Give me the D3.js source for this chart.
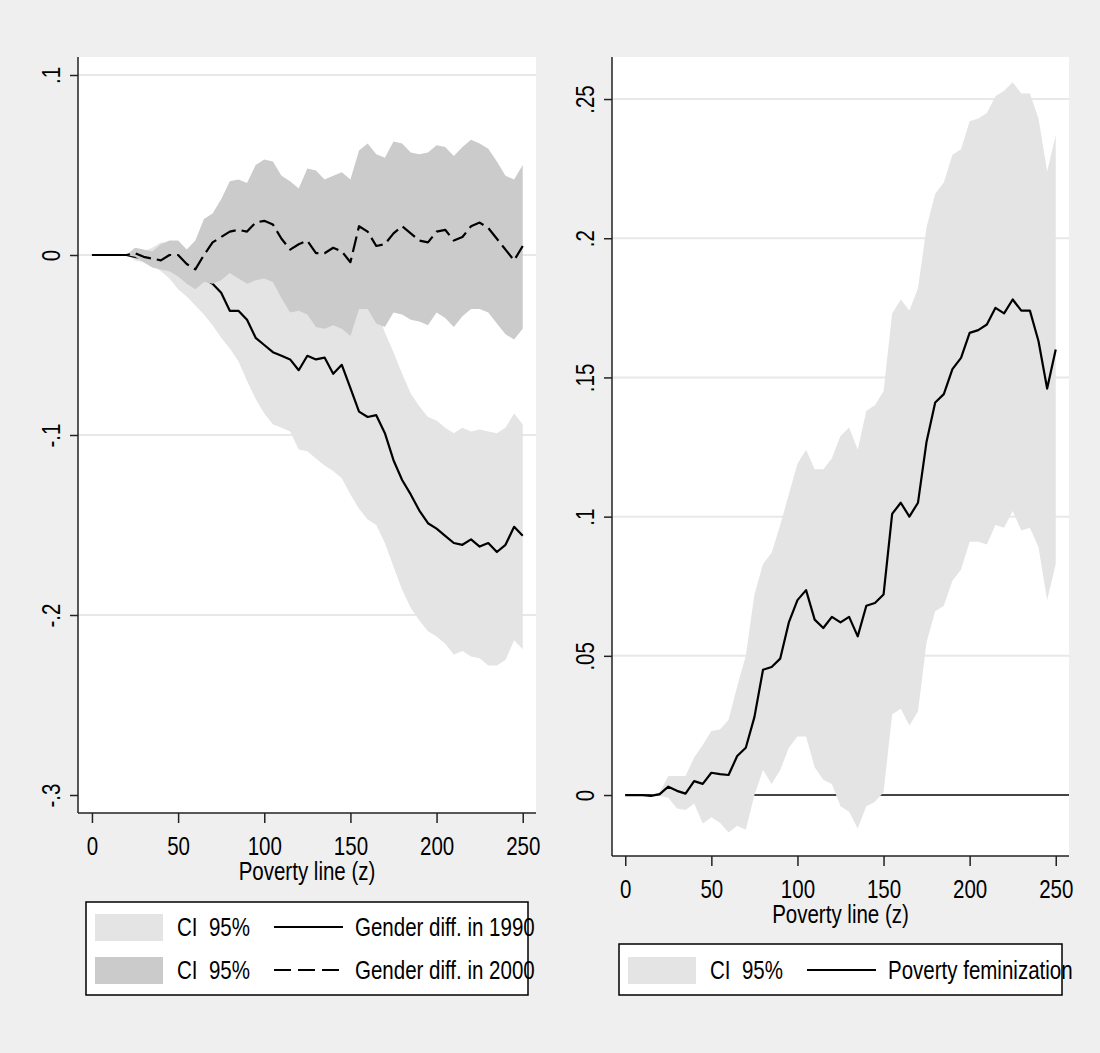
<!DOCTYPE html>
<html lang="en">
<head>
<meta charset="utf-8" />
<script src="https://d3js.org/d3.v7.min.js"></script>
<style>
  body { margin: 0; background: #efefef; }
  svg { display: block; }
  text { font-family: "Liberation Sans", Arial, sans-serif; font-size: 25px; fill: #000; }
  .axis path, .axis line { stroke: #222; stroke-width: 1.5px; }
</style>
</head>
<body>
<script>
// poverty line values (z)
var zGrid = [0,5,10,15,20,25,30,35,40,45,50,55,60,65,70,75,80,85,90,95,100,105,110,115,120,125,
             130,135,140,145,150,155,160,165,170,175,180,185,190,195,200,205,210,215,220,225,230,235,240,245,250];

// left panel: gender difference in 1990
var est1990 = [0,0,0,0,0, -0.001,-0.002,-0.003,-0.004,-0.006, -0.008,-0.009,-0.011,-0.013,-0.016,
  -0.021,-0.031,-0.031,-0.036,-0.046, -0.050,-0.054,-0.056,-0.058,-0.064, -0.056,-0.058,-0.057,-0.066,-0.061,
  -0.074,-0.087,-0.090,-0.089,-0.099, -0.114,-0.125,-0.133,-0.142,-0.149, -0.152,-0.156,-0.160,-0.161,-0.158,
  -0.162,-0.160,-0.165,-0.161,-0.151, -0.156];
var lo1990 = [0,0,0,0,0, -0.003,-0.004,-0.006,-0.009,-0.013, -0.019,-0.023,-0.028,-0.033,-0.039,
  -0.046,-0.052,-0.059,-0.070,-0.080, -0.088,-0.094,-0.096,-0.098,-0.108, -0.109,-0.113,-0.117,-0.120,-0.124,
  -0.133,-0.141,-0.147,-0.150,-0.160, -0.173,-0.186,-0.196,-0.203,-0.209, -0.212,-0.216,-0.222,-0.220,-0.223,
  -0.224,-0.228,-0.228,-0.225,-0.214, -0.219];
var hi1990 = [0,0,0,0,0, 0.002,0.002,0.004,0.007,0.007, 0.002,-0.004,-0.006,-0.008,-0.010,
  -0.005,-0.004,-0.006,-0.006,-0.005, -0.008,-0.006,-0.012,-0.015,-0.012, -0.018,-0.015,-0.018,-0.020,-0.018,
  -0.020,-0.018,-0.024,-0.030,-0.043, -0.054,-0.066,-0.077,-0.084,-0.090, -0.092,-0.096,-0.099,-0.096,-0.098,
  -0.097,-0.098,-0.099,-0.096,-0.088, -0.094];

// left panel: gender difference in 2000
var est2000 = [0,0,0,0,0, 0.001,-0.001,-0.002,-0.003,0.000, 0.000,-0.005,-0.008,0.000,0.007,
  0.010,0.013,0.014,0.013,0.018, 0.019,0.017,0.009,0.003,0.006, 0.008,0.001,0.001,0.004,0.002,
  -0.004,0.016,0.013,0.005,0.006, 0.012,0.016,0.012,0.008,0.007, 0.013,0.014,0.008,0.010,0.016,
  0.018,0.015,0.009,0.003,-0.003, 0.005];
var lo2000 = [0,0,0,0,0, -0.001,-0.004,-0.007,-0.008,-0.009, -0.012,-0.016,-0.019,-0.015,-0.016,
  -0.014,-0.010,-0.013,-0.016,-0.014, -0.013,-0.015,-0.024,-0.032,-0.031, -0.033,-0.040,-0.041,-0.039,-0.041,
  -0.045,-0.030,-0.030,-0.038,-0.040, -0.032,-0.033,-0.036,-0.037,-0.039, -0.032,-0.035,-0.040,-0.034,-0.030,
  -0.030,-0.032,-0.038,-0.044,-0.047, -0.041];
var hi2000 = [0,0,0,0,0, 0.004,0.003,0.002,0.006,0.008, 0.008,0.003,0.008,0.020,0.023,
  0.031,0.041,0.042,0.040,0.050, 0.053,0.052,0.044,0.041,0.037, 0.048,0.047,0.042,0.044,0.046,
  0.042,0.058,0.062,0.056,0.054, 0.063,0.062,0.057,0.056,0.057, 0.061,0.060,0.055,0.060,0.064,
  0.062,0.059,0.052,0.044,0.042, 0.050];

// right panel: poverty feminization
var estFem = [0,0,0,-0.0003,0.0003, 0.003,0.0015,0.0005,0.005,0.004, 0.008,0.0075,0.0072,0.014,0.017,
  0.028,0.045,0.046,0.049,0.062, 0.070,0.0736,0.063,0.060,0.064, 0.062,0.064,0.057,0.068,0.069,
  0.072,0.101,0.105,0.100,0.105, 0.127,0.141,0.144,0.153,0.157, 0.166,0.167,0.169,0.175,0.173,
  0.178,0.174,0.174,0.163,0.146, 0.160];
var loFem = [0,0,0,0,-0.0003, -0.001,-0.0048,-0.0054,-0.003,-0.0102, -0.008,-0.010,-0.0135,-0.011,-0.0125,
  0.000,0.009,0.004,0.009,0.017, 0.021,0.021,0.010,0.0055,0.004, -0.004,-0.006,-0.012,-0.004,-0.0024,
  0.001,0.029,0.031,0.025,0.030, 0.055,0.066,0.068,0.077,0.081, 0.091,0.091,0.090,0.097,0.096,
  0.102,0.095,0.096,0.089,0.070, 0.083];
var hiFem = [0,0,0,0,0.001, 0.0068,0.0068,0.0068,0.0135,0.018, 0.023,0.0235,0.027,0.039,0.050,
  0.072,0.083,0.087,0.097,0.108, 0.119,0.124,0.117,0.117,0.121, 0.129,0.132,0.124,0.138,0.140,
  0.145,0.173,0.178,0.174,0.182, 0.204,0.216,0.220,0.230,0.232, 0.242,0.243,0.245,0.251,0.253,
  0.256,0.252,0.252,0.243,0.224, 0.237];

var xTicks = [0, 50, 100, 150, 200, 250];
var yTicksLeft = [-0.3, -0.2, -0.1, 0, 0.1];
var yLabelsLeft = ["-.3", "-.2", "-.1", "0", ".1"];
var yTicksRight = [0, 0.05, 0.1, 0.15, 0.2, 0.25];
var yLabelsRight = ["0", ".05", ".1", ".15", ".2", ".25"];
var xTitle = "Poverty line (z)";

var width = 1100, height = 1053;
var lightFill = "#e4e4e4", darkFill = "#cbcbcb";

var svg = d3.select("body").append("svg")
    .attr("width", width)
    .attr("height", height);

svg.append("rect").attr("width", width).attr("height", height).attr("fill", "#efefef");

function rows(lo, hi, est) {
    return zGrid.map(function (z, i) { return { z: z, lo: lo[i], hi: hi[i], est: est[i] }; });
}

function drawPanel(p) {
    var x = d3.scaleLinear().domain(p.xDomain).range([p.x0, p.x1]);
    var y = d3.scaleLinear().domain(p.yDomain).range([p.y1, p.y0]);
    var g = svg.append("g");

    g.append("rect")
        .attr("x", p.x0).attr("y", p.y0)
        .attr("width", p.x1 - p.x0).attr("height", p.y1 - p.y0)
        .attr("fill", "#fff");

    // grid lines
    g.selectAll(".grid").data(p.grid).enter().append("line")
        .attr("x1", p.x0).attr("x2", p.x1)
        .attr("y1", function (d) { return y(d); })
        .attr("y2", function (d) { return y(d); })
        .attr("stroke", "#e8e8e8").attr("stroke-width", 2);

    if (p.zeroLine) {
        g.append("line")
            .attr("x1", x(0)).attr("x2", p.x1)
            .attr("y1", y(0)).attr("y2", y(0))
            .attr("stroke", "#444").attr("stroke-width", 2);
    }

    var area = d3.area()
        .x(function (d) { return x(d.z); })
        .y0(function (d) { return y(d.lo); })
        .y1(function (d) { return y(d.hi); });
    var line = d3.line()
        .x(function (d) { return x(d.z); })
        .y(function (d) { return y(d.est); });

    p.series.forEach(function (s) {
        g.append("path").datum(s.data).attr("d", area).attr("fill", s.fill);
        g.append("path").datum(s.data).attr("d", line)
            .attr("fill", "none").attr("stroke", "#000").attr("stroke-width", 2.2)
            .attr("stroke-linejoin", "round")
            .attr("stroke-dasharray", s.dash || null);
    });

    // axes
    var yAxis = d3.axisLeft(y).tickValues(p.yTicks)
        .tickFormat(function (d, i) { return p.yLabels[i]; })
        .tickSize(8).tickSizeOuter(0);
    var ya = g.append("g").attr("class", "axis")
        .attr("transform", "translate(" + p.x0 + ",0)")
        .call(yAxis);
    ya.select(".domain").attr("d", "M0," + p.y0 + "V" + p.y1);
    ya.selectAll("text")
        .attr("x", 0).attr("y", -18).attr("dy", null)
        .attr("text-anchor", "middle")
        .attr("transform", "rotate(-90)");

    var xAxis = d3.axisBottom(x).tickValues(xTicks)
        .tickSize(10).tickPadding(14).tickSizeOuter(0);
    var xa = g.append("g").attr("class", "axis")
        .attr("transform", "translate(0," + p.y1 + ")")
        .call(xAxis);
    xa.select(".domain").attr("d", "M" + p.x0 + ",0H" + p.x1);

    g.selectAll(".tick text").style("font-size", "25px").style("font-family", null).attr("fill", "#000");

    g.append("text")
        .attr("x", (p.x0 + p.x1) / 2).attr("y", p.y1 + 67)
        .attr("text-anchor", "middle")
        .text(xTitle);

    // legend
    var lg = g.append("g");
    lg.append("rect")
        .attr("x", p.legend.x0).attr("y", p.legend.y0)
        .attr("width", p.legend.x1 - p.legend.x0).attr("height", p.legend.y1 - p.legend.y0)
        .attr("fill", "#fff").attr("stroke", "#000").attr("stroke-width", 1.5);
    p.legend.items.forEach(function (it, i) {
        var cy = p.legend.row0 + i * 43;
        lg.append("rect")
            .attr("x", p.legend.x0 + 9).attr("y", cy - 13)
            .attr("width", 68).attr("height", 27)
            .attr("fill", it.fill);
        lg.append("text")
            .attr("x", p.legend.x0 + 91).attr("y", cy + 9)
            .attr("xml:space", "preserve")
            .text("CI  95%");
        lg.append("line")
            .attr("x1", p.legend.x0 + 188).attr("x2", p.legend.x0 + 257)
            .attr("y1", cy).attr("y2", cy)
            .attr("stroke", "#000").attr("stroke-width", 2)
            .attr("stroke-dasharray", it.dash || null);
        lg.append("text")
            .attr("x", p.legend.x0 + 269).attr("y", cy + 9)
            .text(it.label);
    });
}

drawPanel({
    x0: 78, x1: 536, y0: 57, y1: 813,
    xDomain: [-8.1, 257.7], yDomain: [-0.31, 0.11],
    yTicks: yTicksLeft, yLabels: yLabelsLeft,
    grid: [-0.2, -0.1, 0, 0.1],
    series: [
        { data: rows(lo1990, hi1990, est1990), fill: lightFill },
        { data: rows(lo2000, hi2000, est2000), fill: darkFill, dash: "16,6" }
    ],
    legend: {
        x0: 86, x1: 528, y0: 902, y1: 995, row0: 927,
        items: [
            { fill: lightFill, label: "Gender diff. in 1990" },
            { fill: darkFill, label: "Gender diff. in 2000", dash: "17,7" }
        ]
    }
});

drawPanel({
    x0: 612, x1: 1069, y0: 57, y1: 856,
    xDomain: [-7.7, 257.7], yDomain: [-0.0219, 0.2651],
    yTicks: yTicksRight, yLabels: yLabelsRight,
    grid: [0.05, 0.1, 0.15, 0.2, 0.25],
    zeroLine: true,
    series: [
        { data: rows(loFem, hiFem, estFem), fill: lightFill }
    ],
    legend: {
        x0: 619, x1: 1062, y0: 944, y1: 995, row0: 970,
        items: [
            { fill: lightFill, label: "Poverty feminization" }
        ]
    }
});

// narrow the text to match the condensed face of the original
svg.selectAll("text").each(function () {
    var w = this.getComputedTextLength();
    d3.select(this).attr("textLength", w * 0.82).attr("lengthAdjust", "spacingAndGlyphs");
});
</script>
</body>
</html>
